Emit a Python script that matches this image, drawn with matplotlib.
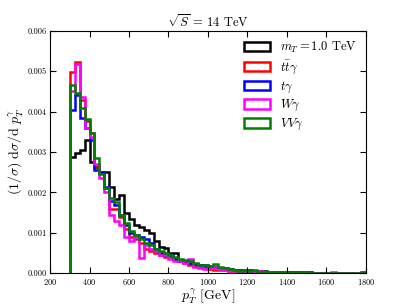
import numpy as np
import matplotlib
matplotlib.use("Agg")
import matplotlib.pyplot as plt
from matplotlib.patches import Patch

# bin edges: 25 GeV bins from 300 to 1800
edges = np.arange(300, 1801, 25)

# normalized distributions (x 1e-3), one value per bin
signal = [2.88, 2.97, 3.05, 3.30, 2.76, 2.64, 2.51, 2.51, 2.13, 1.83, 1.94, 1.50,
          1.34, 1.20, 1.14, 1.07, 0.99, 0.80, 0.64, 0.62, 0.49, 0.50, 0.33, 0.30,
          0.24, 0.22, 0.20, 0.18, 0.17, 0.15, 0.13, 0.12, 0.10, 0.09, 0.08, 0.07,
          0.07, 0.06, 0.05, 0.05, 0.04, 0.04, 0.03, 0.03, 0.03, 0.02, 0.02, 0.02,
          0.02, 0.015, 0.01, 0.01, 0.01, 0.01, 0.01, 0.005, 0.005, 0.005, 0.005, 0.005]
ttgamma = [4.97, 5.23, 4.30, 3.77, 3.46, 2.65, 2.50, 2.10, 1.60, 1.60, 1.40, 1.10,
           0.90, 0.85, 0.75, 0.60, 0.55, 0.50, 0.45, 0.40, 0.40, 0.35, 0.30, 0.25,
           0.20, 0.18, 0.15, 0.12, 0.10, 0.09, 0.08, 0.07, 0.06, 0.05, 0.05, 0.04,
           0.04, 0.03, 0.03, 0.03, 0.02, 0.02, 0.02, 0.02, 0.015, 0.01, 0.01, 0.01,
           0.01, 0.01, 0.005, 0.005, 0.005, 0.005, 0.005, 0.005, 0.0, 0.0, 0.0, 0.0]
tgamma = [4.03, 4.40, 3.85, 3.60, 3.30, 2.56, 2.50, 2.14, 1.80, 1.70, 1.45, 1.20,
          1.00, 0.95, 0.90, 0.85, 0.75, 0.60, 0.50, 0.45, 0.45, 0.35, 0.30, 0.28,
          0.25, 0.22, 0.20, 0.20, 0.18, 0.15, 0.12, 0.10, 0.08, 0.07, 0.06, 0.05,
          0.05, 0.04, 0.04, 0.03, 0.03, 0.02, 0.02, 0.02, 0.02, 0.015, 0.01, 0.01,
          0.01, 0.01, 0.01, 0.005, 0.005, 0.005, 0.005, 0.005, 0.005, 0.0, 0.0, 0.02]
wgamma = [4.50, 5.19, 4.36, 3.60, 3.37, 2.70, 2.35, 2.00, 1.45, 1.30, 1.20, 0.90,
          0.80, 0.90, 0.38, 0.70, 0.60, 0.55, 0.45, 0.45, 0.35, 0.30, 0.30, 0.25,
          0.35, 0.15, 0.12, 0.10, 0.12, 0.15, 0.10, 0.08, 0.06, 0.05, 0.04, 0.04,
          0.03, 0.03, 0.05, 0.02, 0.02, 0.02, 0.01, 0.02, 0.01, 0.01, 0.01, 0.01,
          0.01, 0.005, 0.005, 0.005, 0.005, 0.04, 0.005, 0.005, 0.0, 0.0, 0.0, 0.0]
vvgamma = [4.65, 4.45, 4.10, 3.83, 3.46, 2.85, 2.45, 2.10, 1.86, 1.77, 1.45, 1.25,
           1.05, 0.95, 0.85, 0.75, 0.70, 0.60, 0.55, 0.50, 0.45, 0.40, 0.35, 0.32,
           0.30, 0.25, 0.20, 0.20, 0.18, 0.22, 0.15, 0.12, 0.10, 0.08, 0.06, 0.08,
           0.05, 0.08, 0.04, 0.03, 0.03, 0.03, 0.02, 0.02, 0.02, 0.02, 0.01, 0.04,
           0.01, 0.01, 0.01, 0.01, 0.005, 0.005, 0.005, 0.005, 0.005, 0.005, 0.0, 0.0]

labels = [r"$m_T = 1.0$ TeV", r"$t\bar{t}\gamma$", r"$t\gamma$",
          r"$W\gamma$", r"$VV\gamma$"]
colors = ["black", "red", "blue", "magenta", "green"]

plt.rcParams["font.family"] = "serif"
plt.rcParams["font.serif"] = ["cmr10"]
plt.rcParams["mathtext.fontset"] = "cm"
plt.rcParams["axes.formatter.use_mathtext"] = True


def main():
  fig = plt.figure(figsize=(4.07, 3.05), dpi=100)
  ax = fig.add_axes([0.123, 0.104, 0.776, 0.795])

  series = [signal, ttgamma, tgamma, wgamma, vvgamma]
  for vals, c in zip(series, colors):
    ax.stairs(np.array(vals) * 1e-3, edges, color=c, lw=1.8, baseline=0)

  ax.set_xlim(200, 1800)
  ax.set_ylim(0, 0.006)
  ax.set_xticks(np.arange(200, 1801, 200))
  ax.set_yticks(np.arange(0, 0.0061, 0.001))
  ax.set_yticklabels(["%.3f" % v for v in np.arange(0, 0.0061, 0.001)])
  ax.tick_params(direction="in", top=True, right=True, labelsize=6, length=4,
                 pad=2.5)

  ax.set_xlabel(r"$p_T^{\gamma}$ [GeV]", fontsize=10, labelpad=0)
  ax.set_ylabel(r"$(1/\sigma)\ \mathrm{d}\sigma/\mathrm{d}\ p_T^{\gamma}$",
                fontsize=10, labelpad=2)
  ax.set_title(r"$\sqrt{S}$ = 14 TeV", fontsize=9, pad=3)

  handles = [Patch(facecolor="none", edgecolor=c, lw=1.8) for c in colors]
  ax.legend(handles, labels, loc="upper right", frameon=False, fontsize=9,
            handlelength=2.1, handleheight=0.75, labelspacing=0.3,
            handletextpad=0.8, borderaxespad=0.3)

  fig.savefig("out.png", dpi=100)


if __name__ == '__main__':
  main()
